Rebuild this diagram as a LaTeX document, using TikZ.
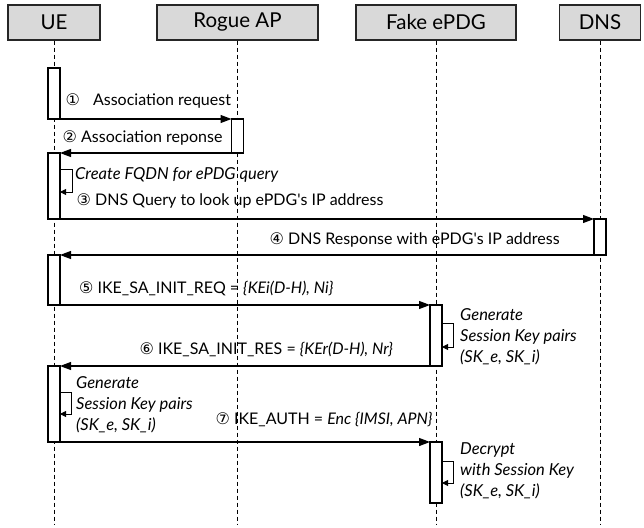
\documentclass[tikz,border=0pt]{standalone}
\usepackage{fontspec}
\setmainfont{Lato}
\newfontfamily\symfont{DejaVu Sans}
\usetikzlibrary{arrows.meta}
\definecolor{hdrgray}{HTML}{D9D9D9}
\newcommand{\cnum}[1]{{\symfont\fontsize{16}{16}\selectfont\char\numexpr"245F+#1\relax}}

\begin{document}
\begin{tikzpicture}[x=1pt,y=-1pt,font=\fontsize{16}{19}\selectfont, head/.style={draw=black!85,line width=1.1pt,fill=hdrgray,minimum height=35pt,inner sep=0pt,font=\fontsize{20.5}{22}\selectfont}, act/.style={draw,line width=1.2pt,fill=white,minimum width=12pt,inner sep=0pt,outer sep=0pt}, life/.style={dash pattern=on 4pt off 3pt,line width=0.9pt}, msg/.style={-{Triangle[length=11pt,width=8pt]},line width=1.1pt}, selfarr/.style={-{Triangle[length=6pt,width=6pt]},line width=0.9pt}, lbl/.style={anchor=west,inner sep=0pt}, note/.style={anchor=west,align=left,inner sep=0pt,font=\fontsize{16.5}{21}\selectfont\itshape}]
\useasboundingbox (0,0) rectangle (644,527);
\node[head,minimum width=92pt] (ue) at (54,22.5) {UE}; \node[head,minimum width=161pt] (ap) at (237.5,22.5) {Rogue AP}; \node[head,minimum width=160pt] (pdg) at (436,22.5) {Fake ePDG}; \node[head,minimum width=81pt] (dns) at (600,22.5) {DNS};
\coordinate (ueend) at (54,525); \coordinate (apend) at (237.5,525); \coordinate (pdgend) at (436,525); \coordinate (dnsend) at (600,525);
\draw[life](ue.south)--(ueend);\draw[life](ap.south)--(apend);\draw[life](pdg.south)--(pdgend);\draw[life](dns.south)--(dnsend);
\node[act,minimum height=51pt] (a1) at (54,93.5) {}; \node[act,minimum height=34pt] (r1) at (237.5,136) {}; \node[act,minimum height=66pt] (a2) at (54,186) {}; \node[act,minimum height=36pt] (d1) at (600,237) {};
\node[act,minimum height=50pt] (a3) at (54,280) {}; \node[act,minimum height=61pt] (p1) at (436,335.5) {}; \node[act,minimum height=76pt] (a4) at (54,404) {}; \node[act,minimum height=61pt] (p2) at (436,472.5) {};
\draw[msg](a1.south east)--(r1.north west);\draw[msg](r1.south west)--(a2.north east);\draw[msg](a2.south east)--(d1.north west);\draw[msg](d1.south west)--(a3.north east);
\draw[msg](a3.south east)--(p1.north west);\draw[msg](p1.south west)--(a4.north east);\draw[msg](a4.south east)--(p2.north west);
\draw[selfarr]([yshift=-16pt]a2.north east)--++(12,0)--++(0,23)--++(-12,0); \draw[selfarr]([yshift=-18pt]p1.north east)--++(11,0)--++(0,24)--++(-11,0);
\draw[selfarr]([yshift=-26pt]a4.north east)--++(11,0)--++(0,22)--++(-11,0); \draw[selfarr]([yshift=-19pt]p2.north east)--++(11,0)--++(0,22)--++(-11,0);
\node[lbl] (m1) at (65.5,101) {\cnum{1}\hspace{13pt}Association request}; \node[lbl] (m2) at (62.5,138) {\cnum{2}~Association reponse};
\node[lbl] (m3) at (76.5,201) {\cnum{3}~DNS Query to look up ePDG\textquotesingle s IP address}; \node[lbl] (m4) at (269.5,240) {\cnum{4}~DNS Response with ePDG\textquotesingle s IP address};
\node[lbl] (m5) at (79,288) {\cnum{5}~IKE\_SA\_INIT\_REQ = \textit{\{KEi(D-H), Ni\}}}; \node[lbl] (m6) at (139.5,349) {\cnum{6}~IKE\_SA\_INIT\_RES = \textit{\{KEr(D-H), Nr\}}};
\node[lbl] (m7) at (215.5,420) {\cnum{7}~IKE\_AUTH = \textit{Enc \{IMSI, APN\}}};
\node[note] (n1) at (75,175) {Create FQDN for ePDG query}; \node[note] (n2) at (460,337) {Generate\\Session Key pairs\\(SK\_e, SK\_i)};
\node[note] (n3) at (76,405) {Generate\\Session Key pairs\\(SK\_e, SK\_i)}; \node[note] (n4) at (460,471) {Decrypt\\with Session Key\\(SK\_e, SK\_i)};
\end{tikzpicture}
\end{document}
